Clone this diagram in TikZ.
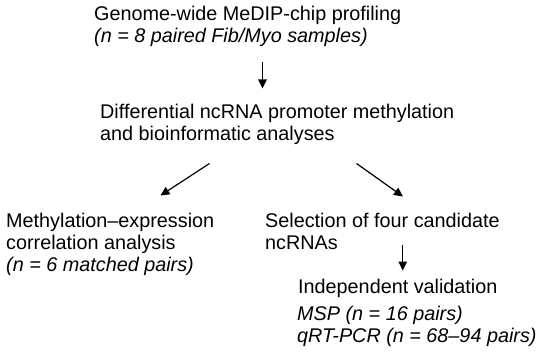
\documentclass[tikz,border=0pt]{standalone}
\usepackage{fontspec}
\setmainfont{Liberation Sans}
\usetikzlibrary{arrows.meta}
\begin{document}
\begin{tikzpicture}[x=1pt,y=-1pt,
  txt/.style={anchor=base west,inner sep=0pt,font=\fontsize{19.8}{22}\selectfont},
  itx/.style={txt,font=\fontsize{19.8}{22}\selectfont\itshape},
  arr/.style={-{Triangle[length=9pt,width=8.5pt]},line width=1.2pt}]
\useasboundingbox (0,0) rectangle (550,361);
\node[txt] (t1) at (94,21) {Genome-wide MeDIP-chip profiling};
\node[itx] (t2) at (94,42.5) {(n = 8 paired Fib/Myo samples)};
\node[txt] (d1) at (100,119) {Differential ncRNA promoter methylation};
\node[txt] (d2) at (100,141) {and bioinformatic analyses};
\node[txt] (m1) at (6,227) {Methylation--expression};
\node[txt] (m2) at (6,249) {correlation analysis};
\node[itx] (m3) at (6,271) {(n = 6 matched pairs)};
\node[txt] (s1) at (265,227) {Selection of four candidate};
\node[txt] (s2) at (265,249) {ncRNAs};
\node[txt] (v1) at (298,293) {Independent validation};
\node[itx] (v2) at (297,320) {MSP (n = 16 pairs)};
\node[itx] (v3) at (297,342) {qRT-PCR (n = 68--94 pairs)};
\coordinate (a1s) at (262.5,62.5); \coordinate (a1e) at (262.5,88.5);
\coordinate (a2s) at (209.5,163.5); \coordinate (a2e) at (160.5,195.5);
\coordinate (a3s) at (356.5,163.5); \coordinate (a3e) at (403,196.5);
\coordinate (a4s) at (402.7,244.5); \coordinate (a4e) at (402.7,270.5);
\draw[arr] (a1s) -- (a1e);
\draw[arr] (a2s) -- (a2e);
\draw[arr] (a3s) -- (a3e);
\draw[arr] (a4s) -- (a4e);
\end{tikzpicture}
\end{document}
